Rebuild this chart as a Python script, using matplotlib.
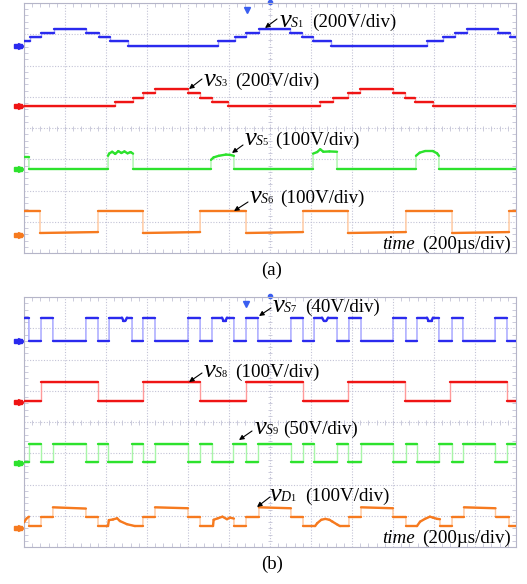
import numpy as np
import matplotlib.pyplot as plt
from matplotlib.collections import LineCollection
from matplotlib.ticker import MultipleLocator

W, H = 527, 584
SERIF = ['Liberation Serif', 'DejaVu Serif']

# ---------------- data read off the two scope shots ----------------
# time in microseconds (200 us/div, 12 div), voltage in volts

# (a) vS1: staircase, edge times and level after each edge
s1_t = [0, 29, 83, 146, 302, 366, 420, 507, 946, 1029, 1083, 1146, 1298, 1356,
        1410, 1498, 1966, 2044, 2102, 2161, 2312, 2371, 2400]
s1_v = [27, 54, 81, 108, 81, 54, 27, 0, 27, 54, 81, 108, 81, 54, 27, 0,
        27, 54, 81, 108, 81, 54]

# (a) vS3
s3_t = [0, 444, 532, 580, 639, 800, 859, 917, 995, 1444, 1507, 1580, 1639,
        1800, 1859, 1907, 1995, 2400]
s3_v = [0, 28, 56, 84, 112, 84, 56, 28, 0, 28, 56, 84, 112, 84, 56, 28, 0]

# (a) vS5: pulses with ragged tops (t, v)
s5 = [(0, 40), (24, 40), (24, 0), (410, 0), (410, 43), (415, 50), (430, 56),
      (445, 49), (460, 58), (475, 52), (490, 57), (505, 51), (520, 55), (532, 50),
      (532, 0), (912, 0), (912, 30), (925, 38), (950, 43), (985, 47), (1005, 46),
      (1024, 43), (1024, 0), (1410, 0), (1410, 50), (1430, 55), (1445, 64),
      (1460, 56), (1490, 57), (1527, 56), (1527, 0), (1912, 0), (1912, 43),
      (1930, 53), (1955, 58), (1995, 58), (2015, 51), (2024, 43), (2024, 0),
      (2400, 0)]

# (a) vS6
s6 = [(0, 77), (78, 77), (78, 6), (361, 9), (361, 77), (580, 77), (580, 6),
      (859, 9), (859, 77), (1083, 77), (1083, 6), (1361, 9), (1361, 77),
      (1580, 77), (1580, 6), (1863, 9), (1863, 77), (2088, 77), (2088, 6),
      (2366, 9), (2366, 77), (2400, 77)]

# (b) vS7: two-level pulses plus small dips on the wide pulses
s7_t = [0, 24, 83, 141, 302, 361, 415, 527, 580, 639, 800, 859, 917, 1024, 1083,
        1141, 1302, 1361, 1415, 1527, 1585, 1644, 1800, 1863, 1917, 2024, 2088,
        2141, 2298, 2356, 2400]
s7_v = [30, 0] * 15
s7_dips = [(478, 30), (485, 26), (495, 26), (502, 30), (966, 30), (973, 26),
           (983, 26), (990, 30), (1454, 30), (1462, 26), (1475, 26), (1483, 30),
           (1966, 30), (1973, 26), (1988, 26), (1995, 30)]

# (b) vS8
s8_t = [0, 83, 361, 580, 859, 1083, 1361, 1580, 1859, 2078, 2356, 2400]
s8_v = [4, 65, 4, 65, 4, 65, 4, 65, 4, 65, 4]

# (b) vS9
s9_t = [0, 24, 83, 141, 302, 361, 410, 527, 580, 639, 800, 859, 917, 1020, 1083,
        1141, 1302, 1361, 1415, 1527, 1580, 1644, 1800, 1863, 1917, 2024, 2088,
        2141, 2298, 2356, 2400]
s9_v = [2, 30] * 15

# (b) vD1
d1 = [(0, 18), (12, 30), (24, 36), (24, 6), (83, 6), (83, 36), (141, 36),
      (141, 66), (302, 62), (302, 36), (361, 36), (361, 6), (410, 6), (414, 25),
      (434, 27), (454, 31), (468, 22), (502, 12), (541, 6), (580, 6), (580, 36),
      (639, 36), (639, 66), (800, 63), (800, 36), (859, 36), (859, 6), (922, 6),
      (925, 26), (946, 31), (968, 36), (990, 28), (1005, 33), (1024, 30),
      (1024, 6), (1083, 6), (1083, 36), (1146, 36), (1146, 66), (1302, 63),
      (1302, 36), (1361, 36), (1361, 6), (1420, 6), (1430, 15), (1450, 26),
      (1470, 29), (1490, 26), (1505, 20), (1530, 10), (1541, 6), (1585, 6),
      (1585, 36), (1644, 36), (1644, 66), (1800, 63), (1800, 36), (1863, 36),
      (1863, 6), (1917, 6), (1932, 20), (1956, 29), (1980, 36), (1995, 33),
      (2015, 29), (2029, 28), (2029, 6), (2088, 6), (2088, 36), (2146, 36),
      (2146, 66), (2300, 63), (2300, 36), (2366, 36), (2366, 6), (2400, 6)]

# volts per division of each channel
vdiv_a = [200, 200, 100, 100]
vdiv_b = [40, 100, 50, 100]

# channel colours: flat part, fast edges
BLUE = ('#2a2aee', '#a0a0ff')
RED = ('#ef1414', '#ff9a9a')
GREEN = ('#2de22d', '#a8f5a8')
ORANGE = ('#f67a1f', '#ffc59a')
GRID = '#c3c3d6'


def step_path(edges, levels):
    t, v = [], []
    for i, lv in enumerate(levels):
        t += [edges[i], edges[i + 1]]
        v += [lv, lv]
    return t, v


def trace(ax, t, v, vdiv, ground, colors):
    t = np.asarray(t, float)
    y = ground + np.asarray(v, float) / vdiv
    ax.plot(t, y, color=colors[1], lw=1.0, zorder=3)
    idx = np.where(np.diff(t) > 0)[0]
    segs = [[(t[i], y[i]), (t[i + 1], y[i + 1])] for i in idx]
    ax.add_collection(LineCollection(segs, colors=colors[0], linewidths=1.7,
                                     capstyle='round', zorder=4))
    # channel ground marker on the left
    ax.plot([-0.017, -0.009], [ground, ground], ls='none', marker='s', ms=3.5,
            color=colors[0], transform=ax.get_yaxis_transform(), clip_on=False)
    ax.plot([-0.006], [ground], marker='>', ms=4, color=colors[0],
            transform=ax.get_yaxis_transform(), clip_on=False)


def scope_axes(rect, trig_x):
    ax = fig.add_axes(rect)
    ax.set_xlim(0, 2400)
    ax.set_ylim(0, 8)
    ax.xaxis.set_major_locator(MultipleLocator(200))
    ax.yaxis.set_major_locator(MultipleLocator(1))
    ax.xaxis.set_minor_locator(MultipleLocator(40))
    ax.yaxis.set_minor_locator(MultipleLocator(0.2))
    ax.grid(True, which='major', color=GRID, ls=(0, (1, 1.5)), lw=0.8)
    ax.tick_params(which='both', direction='in', top=True, right=True,
                   labelbottom=False, labelleft=False, color=GRID)
    ax.tick_params(which='major', length=0)
    ax.tick_params(which='minor', length=3, width=0.6)
    for s in ax.spines.values():
        s.set_color('#b5b5c8')
        s.set_linewidth(0.8)
    # centre cross ticks
    ax.vlines(np.arange(0, 2401, 40), 3.92, 4.08, color=GRID, lw=0.6)
    ax.hlines(np.arange(0, 8.01, 0.2), 1188, 1212, color=GRID, lw=0.6)
    # trigger markers
    ax.plot([trig_x], [0.973], marker='v', ms=5, color='#3a5ef0',
            transform=ax.transAxes, clip_on=False)
    ax.plot([0.5], [1.006], marker='o', ms=3, color='#3a5ef0',
            transform=ax.transAxes, clip_on=False)
    return ax


def px(x, y):
    return x / W, 1 - y / H


def label(xv, yb, sub, num, rest, gap, head, tail):
    fig.text(*px(xv, yb), 'v', fontsize=19, style='italic', family=SERIF,
             va='baseline')
    sw = 10 if sub == 'D' else 7
    fig.text(*px(xv + 10.5, yb), sub, fontsize=10, style='italic', family=SERIF,
             va='baseline')
    fig.text(*px(xv + 10.5 + sw, yb), num, fontsize=7.5, family=SERIF,
             va='baseline')
    fig.text(*px(xv + gap, yb), rest, fontsize=13.7, family=SERIF,
             va='baseline')
    fig.add_artist(plt.Annotation('', xy=px(*head), xytext=px(*tail),
                                  xycoords='figure fraction',
                                  arrowprops=dict(arrowstyle='-|>', color='k',
                                                  lw=0.8, mutation_scale=7,
                                                  shrinkA=0, shrinkB=0)))


fig = plt.figure(figsize=(W / 100, H / 100), dpi=100, facecolor='white')

# panel (a)
ax_a = scope_axes([24 / W, 1 - 253 / H, 492 / W, 250 / H], 0.454)
trace(ax_a, *step_path(s1_t, s1_v), vdiv_a[0], 6.64, BLUE)
trace(ax_a, *step_path(s3_t, s3_v), vdiv_a[1], 4.69, RED)
trace(ax_a, *zip(*s5), vdiv_a[2], 2.68, GREEN)
trace(ax_a, *zip(*s6), vdiv_a[3], 0.58, ORANGE)

# panel (b)
ax_b = scope_axes([24 / W, 1 - 547 / H, 492 / W, 250 / H], 0.451)
t7, v7 = step_path(s7_t, s7_v)
t7 = np.array(t7 + [p[0] for p in s7_dips], float)
v7 = np.array(v7 + [p[1] for p in s7_dips], float)
order = np.argsort(t7, kind='stable')
trace(ax_b, t7[order], v7[order], vdiv_b[0], 6.59, BLUE)
trace(ax_b, *step_path(s8_t, s8_v), vdiv_b[1], 4.64, RED)
trace(ax_b, *step_path(s9_t, s9_v), vdiv_b[2], 2.69, GREEN)
trace(ax_b, *zip(*d1), vdiv_b[3], 0.61, ORANGE)

# annotations
label(280, 27, 'S', '1', '(200V/div)', 32, (265, 28), (277, 19))
label(204, 86, 'S', '3', '(200V/div)', 31, (189, 89), (202, 79))
label(245, 145, 'S', '5', '(100V/div)', 30, (232, 153), (243, 145))
label(250, 203, 'S', '6', '(100V/div)', 30, (234, 211), (248, 202))
label(273, 312, 'S', '7', '(40V/div)', 32, (259, 316), (271, 308))
label(204, 377, 'S', '8', '(100V/div)', 31, (189, 382), (202, 373))
label(255, 434, 'S', '9', '(50V/div)', 28, (239, 440), (252, 431))
label(270, 501, 'D', '1', '(100V/div)', 35, (257, 507), (270, 497))

for yb in (249, 543):
    fig.text(*px(382, yb), 'time', fontsize=13.7, style='italic',
             family=SERIF, va='baseline')
    fig.text(*px(511, yb), '(200\u00b5s/div)', fontsize=13.7, family=SERIF,
             va='baseline', ha='right')

fig.text(*px(272, 270), '(a)', fontsize=13.5, family=SERIF, ha='center',
         va='center')
fig.text(*px(272, 564), '(b)', fontsize=13.5, family=SERIF, ha='center',
         va='center')

fig.savefig('out.png', dpi=100, facecolor='white')
